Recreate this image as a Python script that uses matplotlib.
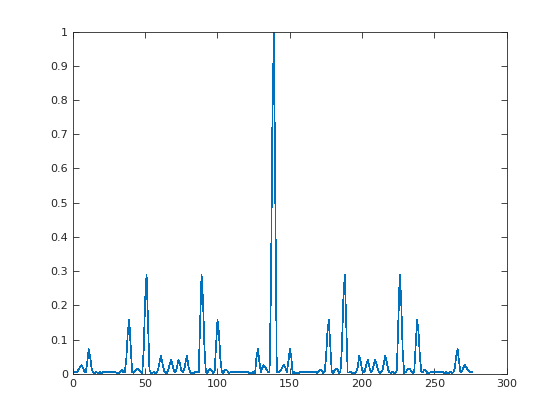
import matplotlib
matplotlib.use("Agg")
import matplotlib.pyplot as plt

# Magnitude samples, index 1..277
left_half = [
    0.006, 0.006, 0.006, 0.012, 0.020, 0.025, 0.018, 0.008, 0.004, 0.035,
    0.072, 0.050, 0.015, 0.004, 0.002, 0.006, 0.003, 0.001, 0.005, 0.002,
    0.005, 0.005, 0.005, 0.005, 0.005, 0.005, 0.005, 0.005, 0.005, 0.004,
    0.002, 0.003, 0.008, 0.012, 0.005, 0.004, 0.045, 0.120, 0.157, 0.080,
    0.006, 0.003, 0.008, 0.014, 0.015, 0.010, 0.004, 0.003, 0.070, 0.215,
    0.290, 0.150, 0.010, 0.003, 0.002, 0.006, 0.002, 0.004, 0.012, 0.035,
    0.052, 0.030, 0.010, 0.004, 0.002, 0.012, 0.028, 0.040, 0.025, 0.008,
    0.004, 0.020, 0.040, 0.030, 0.010, 0.004, 0.012, 0.035, 0.052, 0.020,
    0.006, 0.002, 0.004, 0.002, 0.006, 0.004, 0.004, 0.150, 0.290, 0.215,
    0.075, 0.004, 0.003, 0.012, 0.015, 0.010, 0.003, 0.005, 0.080, 0.157,
    0.120, 0.045, 0.004, 0.003, 0.010, 0.012, 0.008, 0.002, 0.005, 0.005,
    0.005, 0.005, 0.005, 0.005, 0.005, 0.005, 0.005, 0.005, 0.005, 0.005,
    0.005, 0.002, 0.004, 0.001, 0.006, 0.002, 0.050, 0.072, 0.035, 0.004,
    0.018, 0.025, 0.020, 0.012, 0.006, 0.006, 0.260, 0.750, 1.000, 0.500,
]
right_half = [
    0.006, 0.006, 0.006, 0.012, 0.020, 0.025, 0.018, 0.004, 0.035, 0.072,
    0.050, 0.002, 0.006, 0.001, 0.004, 0.002, 0.005, 0.005, 0.005, 0.005,
    0.005, 0.005, 0.005, 0.005, 0.005, 0.005, 0.005, 0.005, 0.002, 0.008,
    0.012, 0.010, 0.003, 0.004, 0.045, 0.120, 0.157, 0.080, 0.005, 0.003,
    0.010, 0.015, 0.012, 0.003, 0.004, 0.075, 0.215, 0.290, 0.150, 0.004,
    0.004, 0.006, 0.002, 0.004, 0.002, 0.006, 0.020, 0.052, 0.035, 0.012,
    0.004, 0.010, 0.030, 0.040, 0.020, 0.004, 0.008, 0.025, 0.040, 0.028,
    0.012, 0.002, 0.004, 0.010, 0.030, 0.052, 0.035, 0.012, 0.004, 0.002,
    0.006, 0.002, 0.003, 0.010, 0.150, 0.290, 0.215, 0.070, 0.003, 0.004,
    0.010, 0.015, 0.014, 0.008, 0.003, 0.006, 0.080, 0.157, 0.120, 0.045,
    0.004, 0.005, 0.012, 0.008, 0.003, 0.002, 0.004, 0.005, 0.005, 0.005,
    0.005, 0.005, 0.005, 0.005, 0.005, 0.005, 0.002, 0.005, 0.001, 0.003,
    0.006, 0.002, 0.004, 0.015, 0.050, 0.072, 0.035, 0.004, 0.008, 0.018,
    0.025, 0.020, 0.012, 0.006, 0.006, 0.006,
]
values = left_half + right_half
x = list(range(1, len(values) + 1))

x_ticks = [0, 50, 100, 150, 200, 250, 300]
y_ticks = [0, 0.1, 0.2, 0.3, 0.4, 0.5, 0.6, 0.7, 0.8, 0.9, 1]

c_line = "#0072BD"
c_axis = "#262626"

fig = plt.figure(figsize=(5.6, 4.2), dpi=100)
ax = fig.add_axes([0.13, 0.11, 0.775, 0.815])

# crisp 1px line like the MATLAB renderer
ax.plot(x, values, color=c_line, linewidth=0.5, antialiased=False)

ax.set_xlim(0, 300)
ax.set_ylim(0, 1)
ax.set_xticks(x_ticks)
ax.set_yticks(y_ticks)
ax.set_xticklabels([str(t) for t in x_ticks])
ax.set_yticklabels(["0", "0.1", "0.2", "0.3", "0.4", "0.5", "0.6", "0.7", "0.8", "0.9", "1"])

# MATLAB-like box with inward ticks
ax.tick_params(direction="in", length=4, width=0.6, colors=c_axis,
               labelsize=8, top=True, right=True, labelcolor=c_axis)
for s in ax.spines.values():
    s.set_color(c_axis)
    s.set_linewidth(0.6)

fig.savefig("out.png", dpi=100)
plt.close(fig)
